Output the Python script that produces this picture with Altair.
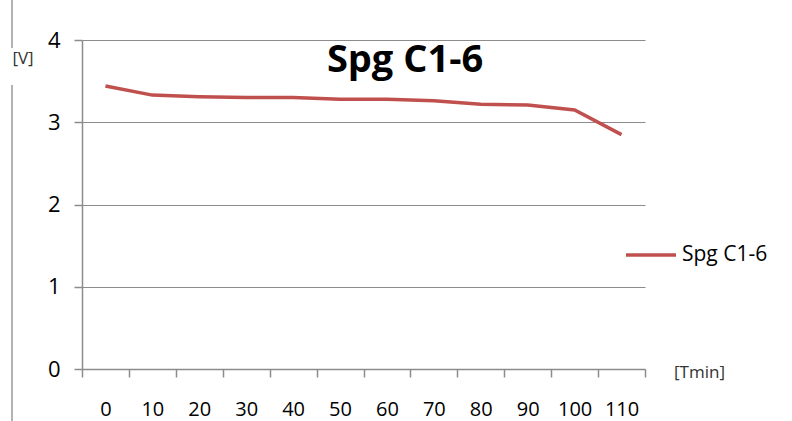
import altair as alt
import pandas as pd

minutes = [0, 10, 20, 30, 40, 50, 60, 70, 80, 90, 100, 110]
volts = [3.44, 3.33, 3.31, 3.30, 3.30, 3.28, 3.28, 3.26, 3.22, 3.21, 3.15, 2.85]
series = "Spg C1-6"

df = pd.DataFrame({"t": minutes, "v": volts, "s": [series] * len(minutes)})

FONT = "Open Sans"
GRAY = "#8c8c8c"

line = alt.Chart(df).mark_line(strokeWidth=3.5, color="#C0504D").encode(
    x=alt.X("t:O", bandPosition=0.5,
            scale=alt.Scale(type="band", paddingInner=0, paddingOuter=0),
            axis=alt.Axis(title=None, tickBand="extent", labelAngle=0, labelFontSize=20,
                          labelFont=FONT, labelColor="#000", labelPadding=22,
                          tickSize=8, tickColor=GRAY, domainColor=GRAY, domainWidth=1.5,
                          tickWidth=1.5, grid=False)),
    y=alt.Y("v:Q", scale=alt.Scale(domain=[0, 4]),
            axis=alt.Axis(title=None, values=[0, 1, 2, 3, 4], format="d", labelFontSize=22,
                          labelFont=FONT, labelColor="#000", labelPadding=14,
                          tickSize=8, tickColor=GRAY, domainColor=GRAY, domainWidth=1.5,
                          tickWidth=1.5, grid=True, gridColor=GRAY, gridWidth=1.2)),
    color=alt.Color("s:N", scale=alt.Scale(range=["#C0504D"]),
                    legend=alt.Legend(title=None, orient="none", legendX=542, legendY=188,
                                      symbolType="stroke", symbolSize=2500,
                                      symbolStrokeWidth=3.5, labelFontSize=21,
                                      labelFont=FONT, labelColor="#000", labelOffset=4)),
)

border = alt.Chart(pd.DataFrame({"k": [0]})).mark_rule(color="#9a9a9a", strokeWidth=1.5).encode(
    x=alt.value(-70), y=alt.value(-40), y2=alt.value(8))
border2 = alt.Chart(pd.DataFrame({"k": [0]})).mark_rule(color="#9a9a9a", strokeWidth=1.5).encode(
    x=alt.value(-70), y=alt.value(45), y2=alt.value(381))

vlab = alt.Chart(pd.DataFrame({"k": ["[V]"]})).mark_text(
    font=FONT, fontSize=17, color="#333", align="center", baseline="middle"
).encode(x=alt.value(-59), y=alt.value(19), text="k:N")

tlab = alt.Chart(pd.DataFrame({"k": ["[Tmin]"]})).mark_text(
    font=FONT, fontSize=17, color="#333", align="left", baseline="middle"
).encode(x=alt.value(592), y=alt.value(333), text="k:N")

title = alt.Chart(pd.DataFrame({"k": [series]})).mark_text(
    font=FONT, fontSize=38, fontWeight="bold", color="#000", align="center", baseline="middle"
).encode(x=alt.value(323), y=alt.value(21), text="k:N")

chart = alt.layer(line, border, border2, vlab, tlab, title).properties(
    width=563, height=329,
    autosize="none",
    padding={"left": 82, "top": 40, "right": 147, "bottom": 52},
    background="white",
).configure_view(stroke=None)

chart.save("out.html", embed_options={"renderer": "svg", "actions": False})
